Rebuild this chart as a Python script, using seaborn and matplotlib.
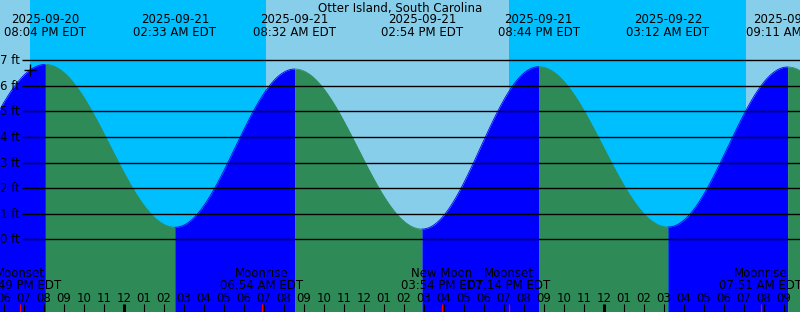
import numpy as np
import pandas as pd
import matplotlib
matplotlib.use("Agg")
import matplotlib.pyplot as plt
import seaborn as sns

# ---------------- data ----------------
title = "Otter Island, South Carolina"

# tide extremes: hours since 2025-09-20 00:00 EDT and heights (ft)
ext_hours = [13.6, 20.0667, 26.55, 32.5333, 38.9, 44.7333, 51.2, 57.1833, 63.6]
ext_heights = [0.45, 6.84, 0.47, 6.66, 0.40, 6.75, 0.48, 6.74, 0.42]
# labels of the visible extremes (ext index 1..7)
ext_dates = ["2025-09-20", "2025-09-21", "2025-09-21", "2025-09-21",
             "2025-09-21", "2025-09-22", "2025-09-22"]
ext_times = ["08:04 PM EDT", "02:33 AM EDT", "08:32 AM EDT", "02:54 PM EDT",
             "08:44 PM EDT", "03:12 AM EDT", "09:11 AM EDT"]

# sunset / sunrise (hours since 2025-09-20 00:00)
sun_hours = [19.3, 31.1, 43.25, 55.1]

# moon events
moon_hours = [18.8167, 30.9, 39.9, 43.2333, 55.85]
moon_names = ["Moonset", "Moonrise", "New Moon", "Moonset", "Moonrise"]
moon_times = ["06:49 PM EDT", "06:54 AM EDT", "03:54 PM EDT", "07:14 PM EDT", "07:51 AM EDT"]

ft_levels = [0, 1, 2, 3, 4, 5, 6, 7]
mark_hour = 19.3

view_start, view_end = 17.8, 57.8

# ---------------- style ----------------
DAY = "#87CEEB"
NIGHT = "#00BFFF"
RISE = "#0000FF"
FALL = "#2E8B57"
W, H = 800, 312
FS = 8.5

sns.set_theme(style="white")
plt.rcParams["font.family"] = ["DejaVu Sans"]

fig = plt.figure(figsize=(W / 100, H / 100), dpi=100)
ax = fig.add_axes([0, 0, 1, 1])
ax.set_axis_off()

# pixel mapping of y: 0 ft at y=239.3 px, 25.57 px per ft
ppf = 25.57
y0px = 239.3
ylo = -(H - y0px) / ppf
yhi = y0px / ppf
ax.set_xlim(view_start, view_end)
ax.set_ylim(ylo, yhi)

def fy(px):
    return 1 - px / H

xt = ax.get_xaxis_transform()

# background day / night
edges = [view_start] + sun_hours + [view_end]
for i in range(len(edges) - 1):
    ax.axvspan(edges[i], edges[i + 1], color=DAY if i % 2 == 0 else NIGHT,
               lw=0, zorder=0)

# tide curve (cosine shape between successive extremes)
rows = []
for i in range(len(ext_hours) - 1):
    t0, t1 = ext_hours[i], ext_hours[i + 1]
    h0, h1 = ext_heights[i], ext_heights[i + 1]
    a, b = max(t0, view_start - 0.1), min(t1, view_end + 0.1)
    if a >= b:
        continue
    t = np.linspace(a, b, 400)
    h = h1 + (h0 - h1) * (1 + np.cos(np.pi * (t - t0) / (t1 - t0))) / 2
    col = RISE if h1 > h0 else FALL
    ax.fill_between(t, h, ylo, color=col, lw=0, zorder=1)
    for tt, hh in zip(t, h):
        rows.append({"hour": tt, "ft": hh, "seg": i})
curve = pd.DataFrame(rows)
seg_pal = {i: (RISE if ext_heights[i + 1] > ext_heights[i] else FALL)
           for i in range(len(ext_hours) - 1)}
sns.lineplot(data=curve, x="hour", y="ft", hue="seg", palette=seg_pal,
             legend=False, lw=0.6, ax=ax, zorder=2, sort=False, estimator=None)

# horizontal grid lines and labels
x_line0 = view_start + 22 / 20
for lv in ft_levels:
    ax.hlines(lv, x_line0, view_end, color="black", lw=1.0, zorder=3)
    ax.text(20 / W, lv - 4 / ppf, f"{lv} ft", transform=ax.get_yaxis_transform(),
            ha="right", va="baseline", fontsize=FS, color="black", zorder=4)

# marker
def tide_at(tq):
    for i in range(len(ext_hours) - 1):
        t0, t1 = ext_hours[i], ext_hours[i + 1]
        if t0 <= tq <= t1:
            h0, h1 = ext_heights[i], ext_heights[i + 1]
            return h1 + (h0 - h1) * (1 + np.cos(np.pi * (tq - t0) / (t1 - t0))) / 2
    return np.nan

sns.scatterplot(x=[mark_hour], y=[tide_at(mark_hour)], marker="+", s=70,
                color="black", linewidth=1.0, ax=ax, zorder=5)

# title and extreme labels
ax.text(0.5, fy(11.7), title, transform=ax.transAxes, ha="center",
        va="baseline", fontsize=FS, color="black", zorder=6)
for k in range(7):
    t = ext_hours[k + 1]
    ax.text(t, fy(23.3), ext_dates[k], transform=xt, ha="center", va="baseline",
            fontsize=FS, color="black", zorder=6)
    ax.text(t, fy(35.5), ext_times[k], transform=xt, ha="center", va="baseline",
            fontsize=FS, color="black", zorder=6)

# moon events
for t, nm, tm in zip(moon_hours, moon_names, moon_times):
    ax.text(t, fy(277.3), nm, transform=xt, ha="center", va="baseline",
            fontsize=FS, color="black", zorder=6)
    ax.text(t, fy(289.0), tm, transform=xt, ha="center", va="baseline",
            fontsize=FS, color="black", zorder=6)
    ax.vlines(t, 0, 8 / H, transform=xt, color="red", lw=0.9, zorder=6)

# hour ticks and labels
for hr in range(int(np.ceil(view_start)), int(view_end) + 1):
    lab = f"{(hr % 12) or 12:02d}"
    ax.text(hr, fy(301.7), lab, transform=xt, ha="center", va="baseline",
            fontsize=FS, color="black", zorder=6)
    ax.vlines(hr, 0, 8 / H, transform=xt, color="black",
              lw=2.2 if hr % 24 == 0 else 0.8, zorder=6)

fig.savefig("out.png", dpi=100)
